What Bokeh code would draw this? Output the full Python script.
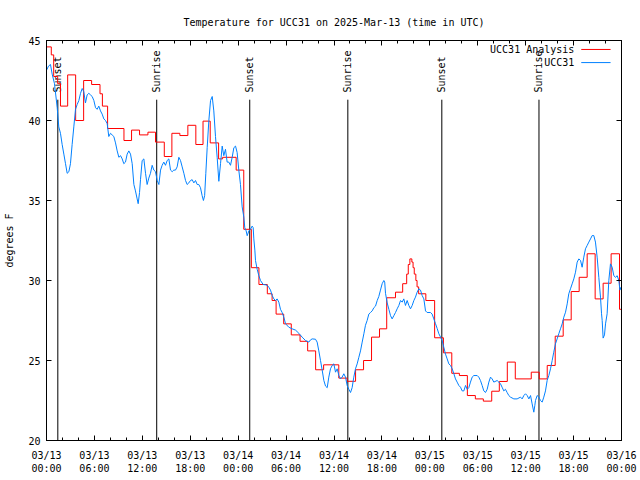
import numpy as np
import pandas as pd
from bokeh.plotting import figure
from bokeh.models import (Range1d, FixedTicker, DatetimeTickFormatter, DatetimeAxis, LinearAxis,
                          CustomJSTickFormatter)
from bokeh.core.properties import value
from bokeh.embed import file_html
from bokeh.resources import INLINE

START = pd.Timestamp("2025-03-13 00:00")
END = pd.Timestamp("2025-03-16 00:00")
TITLE = "Temperature for UCC31 on 2025-Mar-13 (time in UTC)"
Y_LABEL = "degrees F"
Y_TICKS = [20, 25, 30, 35, 40, 45]

# Observed temperature (UCC31), hours after 03/13 00:00 UTC
obs_hours = [0.04, 0.25, 0.5, 0.71, 1.0, 1.34, 1.54, 1.75, 1.96, 2.17, 2.38, 2.59, 2.8, 3.0, 3.21, 3.42, 3.63, 3.84,
             4.05, 4.26, 4.47, 4.67, 4.88, 5.09, 5.3, 5.51, 5.72, 5.93, 6.14, 6.34, 6.55, 6.76, 6.97, 7.18, 7.39, 7.6,
             7.8, 8.01, 8.22, 8.43, 8.64, 8.85, 9.06, 9.27, 9.48, 9.68, 9.89, 10.1, 10.31, 10.52, 10.73, 10.94, 11.14,
             11.35, 11.48, 11.65, 11.77, 11.98, 12.19, 12.4, 12.6, 12.81, 13.02, 13.23, 13.44, 13.65, 13.86, 14.07,
             14.28, 14.48, 14.69, 14.9, 15.11, 15.32, 15.53, 15.74, 15.94, 16.15, 16.36, 16.57, 16.78, 16.99, 17.2,
             17.41, 17.61, 17.82, 18.03, 18.24, 18.45, 18.66, 18.87, 19.07, 19.28, 19.49, 19.65, 19.8, 19.95, 20.12,
             20.33, 20.54, 20.75, 20.95, 21.16, 21.37, 21.58, 21.79, 22.0, 22.2, 22.41, 22.62, 22.83, 23.04, 23.25,
             23.46, 23.67, 23.87, 24.08, 24.29, 24.5, 24.71, 24.83, 25.0, 25.13, 25.34, 25.54, 25.75, 25.88, 25.96,
             26.09, 26.17, 26.38, 26.59, 26.8, 27.13, 27.42, 27.63, 27.84, 28.05, 28.26, 28.47, 28.68, 28.88, 29.09,
             29.3, 29.51, 29.72, 29.93, 30.34, 30.76, 31.18, 31.6, 32.01, 32.43, 32.85, 33.06, 33.27, 33.68, 33.89,
             34.1, 34.31, 34.52, 34.73, 34.94, 35.15, 35.35, 35.56, 35.77, 35.98, 36.19, 36.4, 36.61, 36.81, 37.02,
             37.23, 37.44, 37.65, 37.86, 38.07, 38.27, 38.48, 38.69, 38.9, 39.11, 39.32, 39.53, 39.74, 39.94, 40.15,
             40.36, 40.57, 40.78, 40.99, 41.2, 41.41, 41.61, 41.82, 42.03, 42.24, 42.35, 42.45, 42.66, 42.87, 43.08,
             43.28, 43.49, 43.7, 43.91, 44.12, 44.33, 44.54, 44.74, 44.95, 45.16, 45.37, 45.58, 45.79, 46.0, 46.2,
             46.41, 46.62, 46.83, 47.04, 47.25, 47.46, 47.66, 48.08, 48.29, 48.5, 48.71, 48.92, 49.13, 49.34, 49.54,
             49.75, 49.96, 50.17, 50.38, 50.59, 50.8, 51.01, 51.21, 51.42, 51.63, 51.84, 52.05, 52.26, 52.47, 52.68,
             52.88, 53.09, 53.3, 53.51, 53.93, 54.13, 54.34, 54.55, 54.76, 54.97, 55.18, 55.39, 55.6, 55.8, 56.01,
             56.43, 56.64, 56.85, 57.05, 57.26, 57.47, 57.68, 57.89, 58.1, 58.52, 58.93, 59.35, 59.56, 59.77, 59.98,
             60.19, 60.4, 60.61, 60.81, 61.02, 61.15, 61.23, 61.44, 61.65, 61.86, 62.07, 62.27, 62.48, 62.69, 62.9,
             63.11, 63.32, 63.52, 63.73, 63.94, 64.15, 64.36, 64.57, 64.78, 64.99, 65.2, 65.4, 65.61, 65.82, 66.03,
             66.24, 66.45, 66.66, 66.87, 67.07, 67.28, 67.49, 67.7, 67.91, 68.12, 68.33, 68.53, 68.74, 68.95, 69.16,
             69.37, 69.5, 69.58, 69.7, 69.87, 70.0, 70.2, 70.41, 70.62, 70.83, 71.04, 71.25, 71.46, 71.67, 71.8, 71.95]
obs_temps = [43.17, 43.4, 43.5, 42.9, 42.3, 40.8, 39.6, 39.2, 38.5, 37.9, 37.3, 36.7, 36.8, 37.3, 38.5, 39.6, 40.7, 41.0,
             41.25, 41.7, 42.0, 41.8, 41.1, 41.6, 41.7, 41.6, 41.5, 41.25, 40.8, 40.7, 40.9, 40.6, 40.4, 40.1, 40.0, 39.8,
             39.0, 39.2, 39.1, 39.0, 38.6, 38.1, 37.7, 37.8, 37.6, 37.3, 37.4, 37.9, 38.1, 37.9, 37.3, 36.0, 35.6,
             35.1, 34.8, 35.5, 36.3, 37.5, 37.6, 36.7, 36.0, 36.4, 36.7, 37.2, 36.9, 36.8, 36.25, 36.0,
             36.9, 37.2, 37.4, 37.2, 37.5, 37.6, 36.9, 36.8, 36.9, 36.9, 37.1, 37.7, 37.5, 37.1, 36.7,
             36.25, 36.0, 36.1, 36.25, 36.3, 36.1, 36.25, 36.0, 36.0, 35.8, 35.3, 35.0, 35.3, 36.7, 38.3,
             40.0, 41.25, 41.5, 40.6, 39.0, 37.7, 36.2, 37.3, 38.4, 37.8, 38.2, 37.4, 37.4, 37.2, 37.7,
             38.3, 38.4, 38.0, 36.9, 36.0, 34.6, 33.96, 33.3, 33.1, 32.8, 33.1, 33.2, 33.4, 33.3, 32.6,
             31.9, 31.25, 30.7, 30.3, 30.0, 29.75, 29.73, 29.7, 29.58, 29.4, 29.06, 28.85, 28.75, 28.85, 28.65,
             28.2, 28.0, 27.7, 27.3, 27.08, 26.98, 26.9, 26.7, 26.46, 26.25, 26.15, 26.29, 26.35, 26.33, 26.15,
             25.6, 25.0, 24.4, 23.75, 23.4, 23.3, 23.96, 24.48, 24.69, 24.79, 24.27, 24.48, 24.06, 23.85, 23.96,
             24.17, 23.96, 23.44, 23.2, 23.0, 23.3, 23.96, 24.48, 24.79, 25.2, 25.6, 26.15, 26.67, 27.2, 27.5,
             27.9, 28.0, 28.1, 28.3, 28.4, 28.75, 29.0, 29.4, 29.8, 30.0, 29.9, 29.2, 28.6, 28.2, 27.8,
             27.6, 27.8, 28.0, 28.23, 28.44, 28.75, 28.65, 28.85, 28.44, 28.75, 28.44, 28.23, 28.44, 28.75, 28.96,
             29.27, 29.48, 29.4, 29.06, 28.85, 28.1, 28.0, 28.0, 27.9, 27.6, 27.3, 27.0, 26.67, 26.46, 26.25,
             25.83, 25.4, 25.1, 24.79, 24.69, 24.48, 24.17, 23.85, 23.65, 23.44, 23.33, 23.1, 23.1, 23.44, 23.2,
             23.3, 23.65, 23.96, 24.06, 24.06, 23.96, 23.75, 23.44, 23.1, 23.0, 23.2, 23.65, 23.96, 23.85, 23.65,
             23.75, 23.65, 23.54, 23.33, 23.1, 23.2, 23.0, 22.81, 22.71, 22.6, 22.6, 22.71, 22.6, 22.81, 22.92,
             22.81, 22.6, 22.81, 22.29, 21.77, 22.2, 22.5, 22.81, 22.71, 22.5, 22.4, 22.71, 23.1, 23.75, 24.06,
             24.48, 25.0, 25.52, 26.04, 26.35, 26.67, 26.98, 27.29, 27.71, 28.02, 28.54, 29.17, 29.48, 29.79, 30.1,
             30.52, 31.15, 31.35, 31.25, 30.83, 31.46, 31.98, 32.19, 32.4, 32.6, 32.81, 32.81, 32.4, 31.46, 30.2,
             28.96, 27.92, 27.5, 26.4, 26.6, 27.29, 27.92, 30.0, 31.04, 30.83, 30.3, 30.2, 30.3, 30.0, 29.4, 29.6]

# Analysis (UCC31 Analysis), value held from each start hour until the next
ana_hours = [0.0, 0.6, 0.9, 1.4, 1.75, 2.65, 3.65, 4.65, 5.65, 6.7, 7.0, 7.65, 9.7, 10.65, 11.65, 12.7, 13.65,
             14.75, 15.7, 16.7, 17.7, 18.7, 19.6, 20.5, 21.55, 22.05, 23.75, 24.7, 25.65, 26.6, 27.65, 28.25,
             28.75, 29.7, 30.65, 31.75, 32.7, 33.7, 34.7, 36.6, 37.65, 38.7, 39.7, 40.7, 41.7, 42.6, 43.7, 44.6,
             45.1, 45.3, 45.5, 45.75, 45.9, 46.05, 46.25, 46.4, 46.6, 47.5, 48.6, 49.7, 50.75, 51.7, 52.7, 53.7,
             54.7, 55.75, 56.7, 57.7, 58.7, 60.7, 61.7, 62.7, 63.7, 64.7, 65.7, 66.7, 67.7, 68.7, 69.7, 70.7,
             71.75, 72.0]
ana_temps = [44.6, 44.1, 42.75, 42.3, 40.9, 42.85, 40.0, 42.5, 42.25, 41.67, 40.9, 39.5, 38.75, 39.4, 39.1, 39.27, 38.65,
             37.75, 39.2, 39.06, 39.7, 38.5, 39.96, 38.6, 37.6, 37.7, 36.9, 33.2, 30.8, 29.75, 29.17, 28.75,
             27.9, 27.29, 26.6, 26.2, 25.6, 24.42, 24.73, 23.9, 23.7, 24.42, 25.0, 26.46, 26.98, 28.92, 29.27, 29.8,
             30.4, 31.0, 31.35, 31.15, 30.8, 30.4, 30.0, 29.6, 29.17, 28.75, 26.42, 25.48, 24.2, 24.06, 22.81, 22.6,
             22.46, 23.08, 23.69, 24.9, 23.85, 24.27, 23.85, 24.69, 26.52, 27.54, 29.31, 30.2, 31.67, 28.85, 29.83, 31.67,
             28.2, 28.2]

sun_times = ["2025-03-13 01:25", "2025-03-13 13:48", "2025-03-14 01:27",
             "2025-03-14 13:44", "2025-03-15 01:30", "2025-03-15 13:40"]
sun_labels = ["Sunset", "Sunrise", "Sunset", "Sunrise", "Sunset", "Sunrise"]

legend_labels = ["UCC31 Analysis", "UCC31"]
RED = "#ff0000"
BLUE = "#0080ff"
FONT = "DejaVu Sans Mono"


def hours_to_time(h):
    return START + pd.to_timedelta(np.asarray(h, dtype=float), unit="h")


def ms(t):
    return (pd.Timestamp(t) - pd.Timestamp("1970-01-01")).total_seconds() * 1000.0


major_ticks = [ms(t) for t in pd.date_range(START, END, freq="6h")]
minor_ticks = [ms(t) for t in pd.date_range(START, END, freq="2h")]

p = figure(width=640, height=480, x_axis_type="datetime",
           x_range=Range1d(START, END), y_range=Range1d(20, 45),
           output_backend="svg", toolbar_location=None,
           min_border_left=46, min_border_right=19, min_border_top=40, min_border_bottom=40,
           title=TITLE)
p.title.text_font = FONT
p.title.text_font_size = "10px"
p.title.text_font_style = "normal"
p.title.align = "center"
p.title.text_color = "black"
p.title.standoff = 25
p.grid.visible = False
p.outline_line_color = "black"
p.outline_line_alpha = 1.0
p.background_fill_color = "white"
p.border_fill_color = "white"

x_ticker = FixedTicker(ticks=major_ticks, minor_ticks=minor_ticks)
fmt = "%m/%d\n%H:%M"
x_fmt = DatetimeTickFormatter(microseconds=fmt, milliseconds=fmt, seconds=fmt, minsec=fmt, minutes=fmt,
                              hourmin=fmt, hours=fmt, days=fmt, months=fmt, years=fmt)
blank_fmt = CustomJSTickFormatter(code="return ''")


def style_axis(ax, labels=True):
    ax.axis_line_color = "black"
    ax.major_tick_line_color = "black"
    ax.minor_tick_line_color = "black"
    ax.major_tick_in = 5
    ax.major_tick_out = 0
    ax.minor_tick_in = 3
    ax.minor_tick_out = 0
    ax.major_label_text_font = FONT
    ax.major_label_text_color = "black"
    ax.major_label_text_font_size = "10px"
    if not labels:
        ax.formatter = blank_fmt
        ax.major_label_standoff = 0


xa = p.xaxis[0]
xa.ticker = x_ticker
xa.formatter = x_fmt
style_axis(xa)
xa.major_label_standoff = 9

ya = p.yaxis[0]
ya.ticker = FixedTicker(ticks=Y_TICKS)
style_axis(ya)
ya.major_label_standoff = 6
ya.axis_label = Y_LABEL
ya.axis_label_text_font = FONT
ya.axis_label_text_font_size = "10px"
ya.axis_label_text_font_style = "normal"
ya.axis_label_text_color = "black"
ya.axis_label_standoff = 10

top = DatetimeAxis(ticker=x_ticker)
style_axis(top, labels=False)
p.add_layout(top, "above")

right = LinearAxis(ticker=FixedTicker(ticks=Y_TICKS))
style_axis(right, labels=False)
p.add_layout(right, "right")

# sunrise / sunset markers
sun_x = pd.to_datetime(sun_times)
p.segment(x0=sun_x, y0=[20] * len(sun_x), x1=sun_x, y1=[41.3] * len(sun_x), line_color="black", line_width=1)
p.text(x=sun_x, y=[41.75] * len(sun_x), text=sun_labels, angle=np.pi / 2, text_align="left",
       text_baseline="middle", text_font=value(FONT), text_font_size="10px", text_color="black")

# data
p.step(hours_to_time(ana_hours), ana_temps, mode="after", line_color=RED, line_width=1)
p.line(hours_to_time(obs_hours), obs_temps, line_color=BLUE, line_width=1)

# legend (gnuplot style: label then sample)
span = END - START
leg_text_x = [START + span * 0.918] * 2
leg_y = [44.44, 43.62]
p.text(x=leg_text_x, y=leg_y, text=legend_labels, text_align="right", text_baseline="middle",
       text_font=value(FONT), text_font_size="10px", text_color="black")
p.segment(x0=[START + span * 0.930] * 2, y0=leg_y, x1=[START + span * 0.981] * 2, y1=leg_y,
          line_color=[RED, BLUE], line_width=1)

open("out.html", "w").write(file_html(p, INLINE))
